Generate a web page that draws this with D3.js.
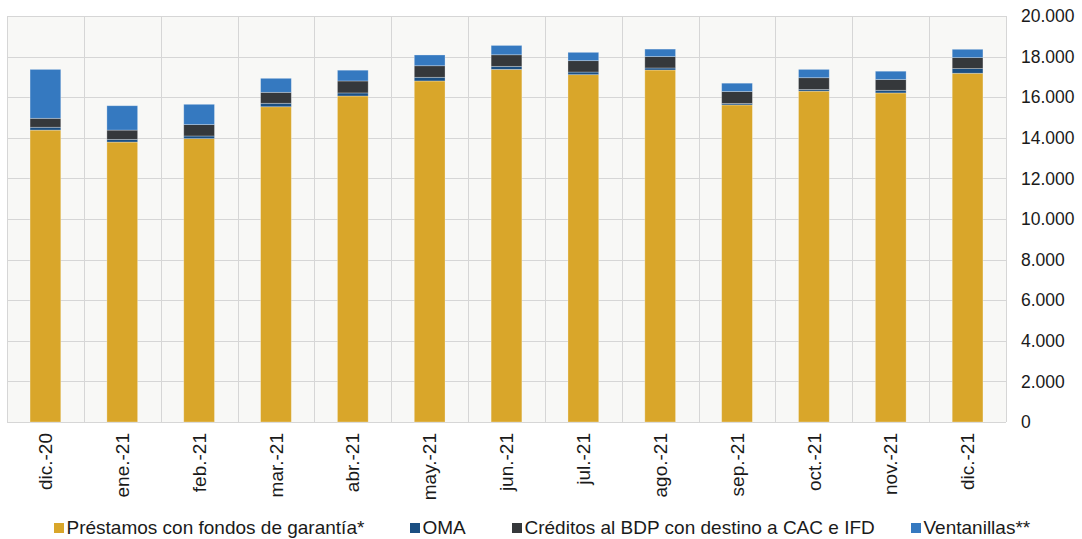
<!DOCTYPE html>
<html>
<head>
<meta charset="utf-8">
<script src="https://cdn.jsdelivr.net/npm/d3@7"></script>
<style>
  html, body { margin: 0; padding: 0; background: #ffffff; }
  svg { display: block; font-family: "Liberation Sans", Arial, sans-serif; }
</style>
</head>
<body>
<svg id="chart" width="1082" height="539"></svg>
<script>
// Months shown on the x axis
const categories = ["dic.-20", "ene.-21", "feb.-21", "mar.-21", "abr.-21", "may.-21",
  "jun.-21", "jul.-21", "ago.-21", "sep.-21", "oct.-21", "nov.-21", "dic.-21"];

// Series values (millions), stacked bottom to top
const prestamos   = [14380, 13790, 13960, 15530, 16060, 16800, 17370, 17110, 17340, 15620, 16300, 16210, 17180];
const oma         = [140, 130, 130, 170, 150, 180, 150, 130, 100, 70, 80, 130, 230];
const creditos    = [440, 460, 560, 540, 590, 570, 570, 560, 560, 590, 580, 530, 540];
const ventanillas = [2410, 1200, 1000, 690, 530, 530, 460, 410, 370, 410, 410, 410, 410];

const seriesNames = ["Préstamos con fondos de garantía*", "OMA",
  "Créditos al BDP con destino a CAC e IFD", "Ventanillas**"];
const yTicks = [0, 2000, 4000, 6000, 8000, 10000, 12000, 14000, 16000, 18000, 20000];

const colors = ["#D9A62A", "#1B4F82", "#35383B", "#3579C0"];
const seriesKeys = ["s0", "s1", "s2", "s3"];

const rows = categories.map((c, i) => ({
  cat: c, s0: prestamos[i], s1: oma[i], s2: creditos[i], s3: ventanillas[i]
}));

const svg = d3.select("#chart");
const plot = { left: 7, right: 1006, top: 16, bottom: 422 };

const x = d3.scaleBand().domain(categories).range([plot.left, plot.right]).paddingInner(0.6).paddingOuter(0.3);
const xStep = d3.scaleBand().domain(categories).range([plot.left, plot.right]).padding(0);
const y = d3.scaleLinear().domain([0, 20000]).range([plot.bottom, plot.top]);

// plot background
svg.append("rect")
  .attr("x", plot.left).attr("y", plot.top)
  .attr("width", plot.right - plot.left).attr("height", plot.bottom - plot.top)
  .attr("fill", "#F8F8F6");

// horizontal gridlines
svg.append("g").selectAll("line").data(yTicks).join("line")
  .attr("x1", plot.left).attr("x2", plot.right)
  .attr("y1", d => Math.round(y(d)) + 0.5).attr("y2", d => Math.round(y(d)) + 0.5)
  .attr("stroke", "#D6D6D6").attr("stroke-width", 1);

// vertical gridlines at category boundaries
const bounds = categories.map(c => xStep(c)).concat([plot.right]);
svg.append("g").selectAll("line").data(bounds).join("line")
  .attr("x1", d => Math.round(d) + 0.5).attr("x2", d => Math.round(d) + 0.5)
  .attr("y1", plot.top).attr("y2", plot.bottom)
  .attr("stroke", "#D6D6D6").attr("stroke-width", 1);

// stacked bars
const stack = d3.stack().keys(seriesKeys)(rows);
svg.append("g").selectAll("g").data(stack).join("g")
  .attr("fill", (d, i) => colors[i])
  .selectAll("rect").data(d => d).join("rect")
  .attr("x", d => x(d.data.cat))
  .attr("width", x.bandwidth())
  .attr("y", d => y(d[1]))
  .attr("height", d => y(d[0]) - y(d[1]))
  .attr("stroke", "rgba(255,255,255,0.35)")
  .attr("stroke-width", 0.8);

// right-hand value axis
const fmt = d3.formatLocale({ decimal: ",", thousands: ".", grouping: [3], currency: ["", ""] }).format(",");
const yAxis = d3.axisRight(y).tickValues(yTicks).tickFormat(fmt).tickSize(0).tickPadding(0);
const yg = svg.append("g").attr("transform", `translate(1021,0)`).call(yAxis);
yg.select(".domain").remove();
yg.selectAll("text").attr("font-size", "17.5px").attr("fill", "#1a1a1a")
  .attr("font-family", "'Liberation Sans', Arial, sans-serif");

// category axis, labels rotated
const xAxis = d3.axisBottom(xStep).tickSize(0).tickPadding(0);
const xg = svg.append("g").attr("transform", `translate(0,${plot.bottom})`).call(xAxis);
xg.select(".domain").remove();
xg.selectAll("text")
  .attr("font-size", "19px").attr("fill", "#1a1a1a")
  .attr("font-family", "'Liberation Sans', Arial, sans-serif")
  .attr("text-anchor", "end")
  .attr("transform", "rotate(-90)")
  .attr("x", -11).attr("y", 0).attr("dy", "0.35em");

// legend
const legendX = [54, 410, 512, 911];
const lg = svg.append("g").selectAll("g").data(seriesNames).join("g")
  .attr("transform", (d, i) => `translate(${legendX[i]},523)`);
lg.append("rect").attr("width", 10).attr("height", 10).attr("fill", (d, i) => colors[i]);
lg.append("text").text(d => d)
  .attr("x", 12.5).attr("y", 11)
  .attr("font-size", "19px").attr("fill", "#1a1a1a")
  .attr("font-family", "'Liberation Sans', Arial, sans-serif");
</script>
</body>
</html>
